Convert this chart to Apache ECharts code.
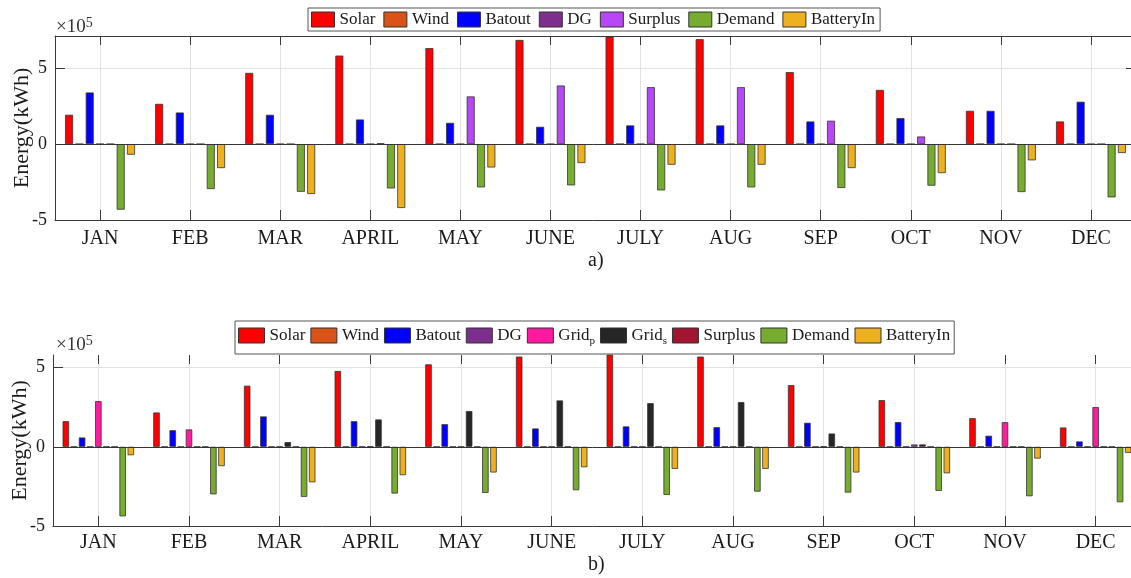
<!DOCTYPE html>
<html>
<head>
<meta charset="utf-8">
<script src="https://cdn.jsdelivr.net/npm/echarts@6/dist/echarts.min.js"></script>
<style>
html,body{margin:0;padding:0;background:#fff;}
#chart{width:1131px;height:578px;}
</style>
</head>
<body>
<div id="chart"></div>
<script>
// ---- data (values in units of 10^5 kWh) ----
const months = ['JAN','FEB','MAR','APRIL','MAY','JUNE','JULY','AUG','SEP','OCT','NOV','DEC'];
const yTicks = [-5, 0, 5];

// panel a)
const aSolar     = [1.93, 2.65, 4.69, 5.83, 6.32, 6.86, 7.08, 6.91, 4.74, 3.57, 2.19, 1.49];
const aWind      = [0, 0, 0, 0, 0, 0, 0, 0, 0, 0, 0, 0];
const aBatout    = [3.40, 2.08, 1.93, 1.62, 1.40, 1.14, 1.23, 1.23, 1.49, 1.71, 2.19, 2.79];
const aDG        = [0, 0, 0, 0, 0, 0, 0, 0, 0, 0, 0, 0];
const aSurplus   = [0, 0, 0, 0.05, 3.14, 3.86, 3.75, 3.75, 1.54, 0.50, 0, 0];
const aDemand    = [-4.32, -2.96, -3.14, -2.92, -2.85, -2.72, -3.05, -2.85, -2.89, -2.74, -3.16, -3.51];
const aBatteryIn = [-0.70, -1.58, -3.29, -4.21, -1.54, -1.25, -1.36, -1.36, -1.58, -1.91, -1.07, -0.59];

// panel b)
const bSolar     = [1.62, 2.17, 3.86, 4.79, 5.21, 5.70, 5.90, 5.70, 3.90, 2.95, 1.81, 1.22];
const bWind      = [0, 0, 0, 0, 0, 0, 0, 0, 0, 0, 0, 0];
const bBatout    = [0.59, 1.05, 1.92, 1.62, 1.43, 1.16, 1.29, 1.24, 1.52, 1.56, 0.70, 0.34];
const bDG        = [0, 0, 0, 0, 0, 0, 0, 0, 0, 0, 0, 0];
const bGridP     = [2.89, 1.10, 0, 0.03, 0, 0, 0, 0, 0.03, 0.15, 1.56, 2.51];
const bGridS     = [0, 0, 0.30, 1.73, 2.26, 2.93, 2.76, 2.83, 0.84, 0.15, 0, 0];
const bSurplus   = [0, 0, 0, 0, 0, 0, 0, 0, 0, 0, 0, 0];
const bDemand    = [-4.39, -3.00, -3.16, -2.95, -2.91, -2.74, -3.04, -2.83, -2.89, -2.78, -3.12, -3.50];
const bBatteryIn = [-0.53, -1.22, -2.24, -1.79, -1.62, -1.29, -1.39, -1.39, -1.62, -1.67, -0.74, -0.38];

const aNames = ['Solar','Wind','Batout','DG','Surplus','Demand','BatteryIn'];
const aData  = [aSolar, aWind, aBatout, aDG, aSurplus, aDemand, aBatteryIn];
const aColors = ['#FF0000','#D95319','#0000FF','#7E2F8E','#B847F5','#77AC30','#EDB120'];

const bNames = ['Solar','Wind','Batout','DG','Grid_p','Grid_s','Surplus','Demand','BatteryIn'];
const bData  = [bSolar, bWind, bBatout, bDG, bGridP, bGridS, bSurplus, bDemand, bBatteryIn];
const bColors = ['#FF0000','#D95319','#0000FF','#7E2F8E','#FF1AA0','#262626','#A2142F','#77AC30','#EDB120'];

// ---- chart ----
const FONT = "'Liberation Serif', 'Times New Roman', serif";
const AX = '#3a3a3a';
const GRIDC = '#e2e2e2';

function labelFor(n) {
  if (n === 'Grid_p') return 'Grid{sub|p}';
  if (n === 'Grid_s') return 'Grid{sub|s}';
  return n;
}

function axesFor(gi, yMax, topLine) {
  const xs = [
    {
      type: 'category', gridIndex: gi, data: months, position: 'bottom',
      axisLine: {onZero: false, lineStyle: {color: AX, width: 1}},
      axisTick: {show: true, inside: true, alignWithLabel: true, length: 10, lineStyle: {color: AX}},
      axisLabel: {fontFamily: FONT, fontSize: 20, color: '#1a1a1a', margin: gi === 0 ? 9 : 7},
      splitLine: {show: true, alignWithLabel: true, lineStyle: {color: GRIDC, width: 1}}
    },
    {
      type: 'category', gridIndex: gi, data: months, position: 'top',
      axisLine: {show: topLine, onZero: false, lineStyle: {color: AX, width: 1}},
      axisTick: {show: true, inside: true, alignWithLabel: true, length: 9, lineStyle: {color: AX}},
      axisLabel: {show: false}, splitLine: {show: false}
    }
  ];
  const ys = [
    {
      type: 'value', gridIndex: gi, min: yTicks[0], max: yMax, interval: 5, position: 'left',
      axisLine: {show: true, lineStyle: {color: AX, width: 1}},
      axisTick: {show: true, inside: true, length: 10, lineStyle: {color: AX}},
      axisLabel: {fontFamily: FONT, fontSize: 18, color: '#1a1a1a', margin: 8, showMaxLabel: false},
      splitLine: {show: true, showMaxLine: topLine, lineStyle: {color: GRIDC, width: 1}},
      name: 'Energy(kWh)', nameLocation: 'middle', nameGap: 22, nameMoveOverlap: false,
      nameTextStyle: {fontFamily: FONT, fontSize: 22, color: '#1a1a1a'}
    },
    {
      type: 'value', gridIndex: gi, min: yTicks[0], max: yMax, interval: 5, position: 'right',
      axisLine: {show: true, lineStyle: {color: AX, width: 1}},
      axisTick: {show: true, inside: true, length: 10, lineStyle: {color: AX}},
      axisLabel: {show: false}, splitLine: {show: false}
    }
  ];
  return {xs, ys};
}

const topAx = axesFor(0, 7.12, true);
const botAx = axesFor(1, 5.8, false);

const series = [];
aNames.forEach((n, i) => {
  series.push({
    type: 'bar', name: 'a-' + n, xAxisIndex: 0, yAxisIndex: 0,
    data: aData[i], barWidth: 8, barGap: '29%', clip: true,
    itemStyle: {color: aColors[i], borderColor: '#333', borderWidth: 0.8},
    emphasis: {disabled: true}, silent: true,
    markLine: i === 0 ? {silent: true, symbol: 'none', label: {show: false},
      lineStyle: {color: '#333', width: 1, type: 'solid'}, data: [{yAxis: 0}]} : undefined
  });
});
bNames.forEach((n, i) => {
  series.push({
    type: 'bar', name: 'b-' + n, xAxisIndex: 2, yAxisIndex: 2,
    data: bData[i], barWidth: 6.5, barGap: '25%', clip: true,
    itemStyle: {color: bColors[i], borderColor: '#333', borderWidth: 0.8},
    emphasis: {disabled: true}, silent: true,
    markLine: i === 0 ? {silent: true, symbol: 'none', label: {show: false},
      lineStyle: {color: '#333', width: 1, type: 'solid'}, data: [{yAxis: 0}]} : undefined
  });
});

const legendCommon = {
  orient: 'horizontal', icon: 'rect',
  backgroundColor: '#fff', borderColor: '#555', borderWidth: 1,
  itemStyle: {borderColor: '#333', borderWidth: 1},
  selectedMode: false,
  formatter: (name) => labelFor(name.slice(2))
};

const option = {
  animation: false,
  backgroundColor: '#fff',
  grid: [
    {left: 55, top: 36, width: 1081, height: 184, containLabel: false, outerBoundsMode: 'none'},
    {left: 53, top: 355, width: 1088, height: 171, containLabel: false, outerBoundsMode: 'none'}
  ],
  xAxis: [...topAx.xs, ...botAx.xs],
  yAxis: [...topAx.ys, ...botAx.ys],
  legend: [
    Object.assign({}, legendCommon, {left: 308, top: 8, itemWidth: 23, itemHeight: 15, itemGap: 8, padding: [3, 5, 3, 3],
      textStyle: {fontFamily: FONT, fontSize: 17, color: '#1a1a1a'},
      data: aNames.map(n => 'a-' + n)}),
    Object.assign({}, legendCommon, {left: 235, top: 321, itemWidth: 26, itemHeight: 15, itemGap: 5, padding: [6, 4, 7, 3],
      textStyle: {fontFamily: FONT, fontSize: 17, color: '#1a1a1a',
        rich: {sub: {fontFamily: FONT, fontSize: 11, color: '#1a1a1a', padding: [12, 0, 0, 0]}}},
      data: bNames.map(n => 'b-' + n)})
  ],
  graphic: [
    {type: 'text', left: 56, top: 16, style: {text: '×10{sup|5}', font: '19px ' + FONT, fill: '#333',
      rich: {sup: {font: '14px ' + FONT, fill: '#333', padding: [0, 0, 9, 0]}}}},
    {type: 'text', left: 56, top: 334, style: {text: '×10{sup|5}', font: '19px ' + FONT, fill: '#333',
      rich: {sup: {font: '14px ' + FONT, fill: '#333', padding: [0, 0, 9, 0]}}}},
    {type: 'text', left: 588, top: 251, style: {text: 'a)', font: '20px ' + FONT, fill: '#1a1a1a'}},
    {type: 'text', left: 588, top: 555, style: {text: 'b)', font: '20px ' + FONT, fill: '#1a1a1a'}}
  ],
  series
};

const chart = echarts.init(document.getElementById('chart'), null, {renderer: 'canvas'});
chart.setOption(option);
</script>
</body>
</html>
